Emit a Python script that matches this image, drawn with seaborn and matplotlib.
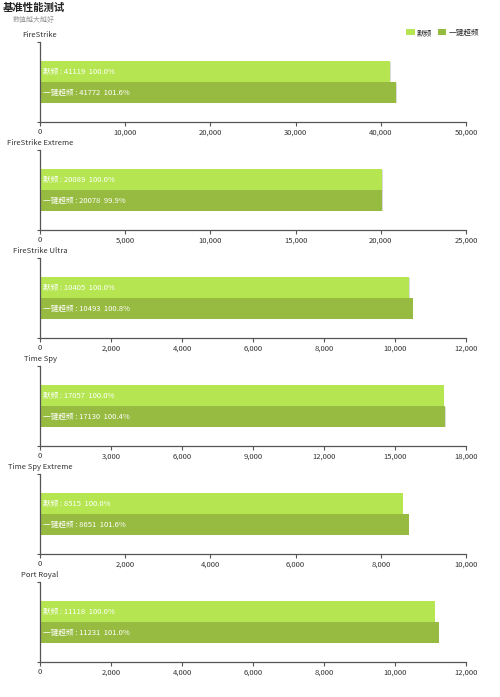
import matplotlib
matplotlib.use("Agg")
import matplotlib.pyplot as plt
import matplotlib.patheffects as pe
from matplotlib.ticker import FuncFormatter, MultipleLocator
import seaborn as sns
import pandas as pd

# ---- data ----
tests = ["FireStrike", "FireStrike Extreme", "FireStrike Ultra",
         "Time Spy", "Time Spy Extreme", "Port Royal"]
series = ["默频", "一键超频"]
default_scores = [41119, 20089, 10405, 17057, 8515, 11118]
oc_scores = [41772, 20078, 10493, 17130, 8651, 11231]
x_max = [50000, 25000, 12000, 18000, 10000, 12000]
x_step = [10000, 5000, 2000, 3000, 2000, 2000]

title = "基准性能测试"
subtitle = "数值越大越好"
colors = ["#b5e651", "#97bb40"]

sns.set_theme(style="white")
plt.rcParams["font.family"] = ["Noto Sans CJK SC", "DejaVu Sans"]

W, H = 500, 697
fig = plt.figure(figsize=(W / 100, H / 100), dpi=100)

fig.text(3 / W, 1 - 8 / H, title, fontsize=7.5, fontweight="bold",
         color="#222222", va="center", ha="left")
fig.text(13 / W, 1 - 20 / H, subtitle, fontsize=5, color="#999999",
         va="center", ha="left")

ax_left = 40 / W
ax_w = (466 - 40) / W
for i, t in enumerate(tests):
    y_bot = 122 + 108 * i
    ax = fig.add_axes([ax_left, 1 - y_bot / H, ax_w, 80 / H])
    df = pd.DataFrame({
        "test": [t, t],
        "series": series,
        "value": [default_scores[i], oc_scores[i]],
    })
    sns.barplot(data=df, y="test", x="value", hue="series", orient="h",
                palette=colors, width=0.52, ax=ax, legend=(i == 0),
                saturation=1, linewidth=0)
    ax.set_ylim(0.5, -0.5)
    ax.set_xlim(0, x_max[i])
    ax.xaxis.set_major_locator(MultipleLocator(x_step[i]))
    ax.xaxis.set_major_formatter(FuncFormatter(lambda v, p: f"{int(v):,}"))
    ax.set_yticks([-0.5, 0.5])
    ax.set_yticklabels(["", ""])
    ax.set_xlabel("")
    ax.set_ylabel("")
    for s in ["top", "right"]:
        ax.spines[s].set_visible(False)
    for s in ["left", "bottom"]:
        ax.spines[s].set_color("#555555")
        ax.spines[s].set_linewidth(0.9)
    ax.tick_params(axis="x", length=3, width=0.8, color="#555555",
                   labelsize=5.5, labelcolor="#333333", pad=1.5, bottom=True)
    ax.tick_params(axis="y", length=2.5, width=0.8, color="#555555", left=True)

    base = default_scores[i]
    vals = [default_scores[i], oc_scores[i]]
    for j, patch in enumerate(ax.patches[:2]):
        patch.set_path_effects([
            pe.SimplePatchShadow(offset=(0.5, -0.5), shadow_rgbFace="#999999", alpha=0.35),
            pe.Normal()])
        yc = patch.get_y() + patch.get_height() / 2
        pct = vals[j] / base * 100
        ax.text(0.006, yc, f"{series[j]} : {vals[j]}  {pct:.1f}%",
                transform=ax.get_yaxis_transform(), color="white",
                fontsize=5.5, va="center", ha="left")

    fig.text(ax_left, 1 - (y_bot - 87) / H, t, fontsize=5.5, color="#333333",
             ha="center", va="center")

    if i == 0:
        leg = ax.get_legend()
        handles = leg.legend_handles
        leg.remove()
        fig.legend(handles, series, loc="center right",
                   bbox_to_anchor=(482 / W, 1 - 33 / H), ncol=2, frameon=False,
                   fontsize=5.5, handlelength=1.1, handleheight=0.8,
                   handletextpad=0.3, columnspacing=0.7, borderaxespad=0)

fig.savefig("out.png", dpi=100)
